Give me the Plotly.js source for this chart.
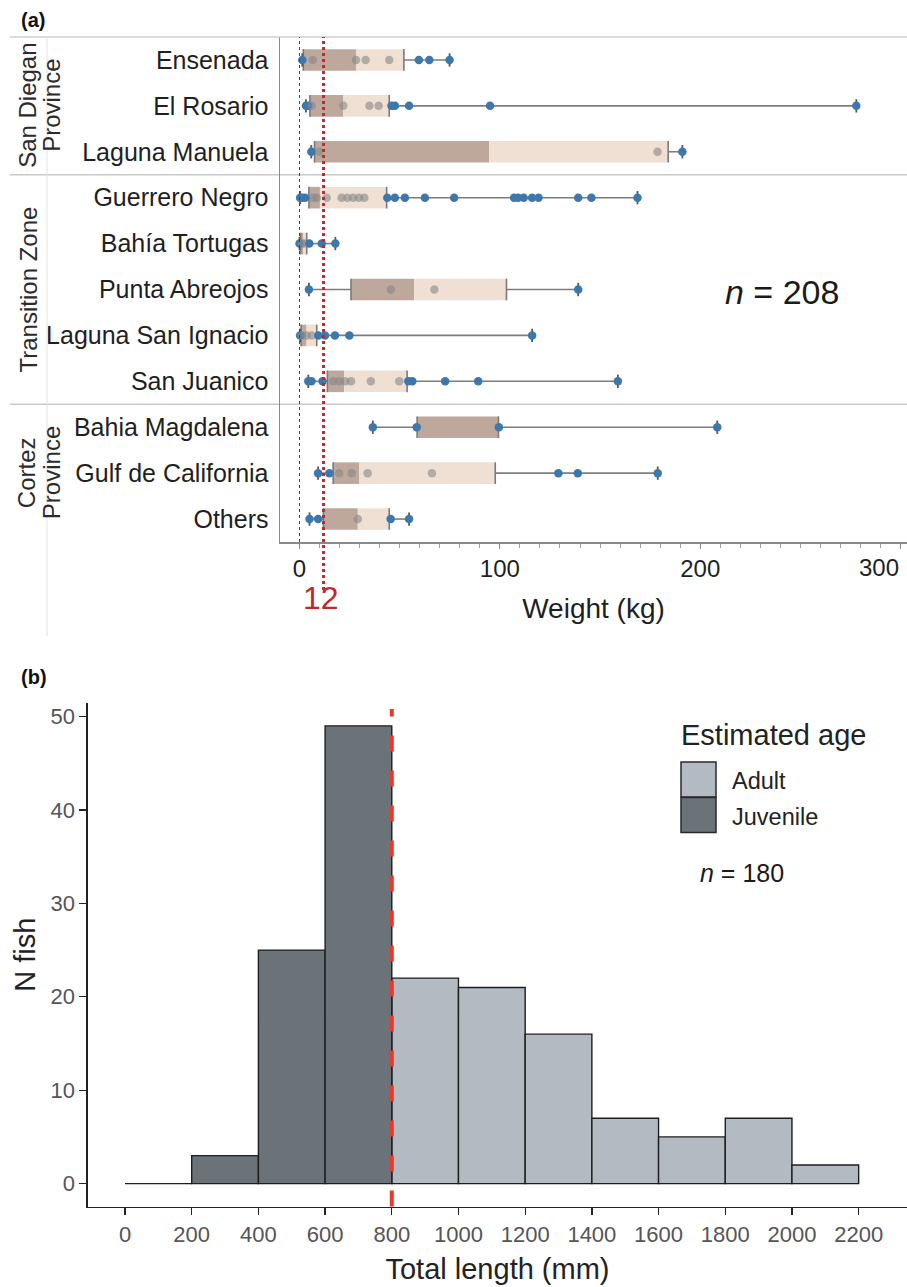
<!DOCTYPE html>
<html>
<head>
<meta charset="utf-8">
<script src="https://cdn.plot.ly/plotly-3.0.1.min.js"></script>
<style>
html,body{margin:0;padding:0;background:#ffffff;}
#chart{width:907px;height:1287px;}
</style>
</head>
<body>
<div id="chart"></div>
<script>
// ---------------- Panel (a): weight (kg) by landing site ----------------
const sites = ['Ensenada','El Rosario','Laguna Manuela','Guerrero Negro','Bahía Tortugas',
  'Punta Abreojos','Laguna San Ignacio','San Juanico','Bahia Magdalena','Gulf de California','Others'];
const provinceLines = [['San Diegan','Province'],['Transition Zone'],['Cortez','Province']];
const provinceSiteCounts = [3, 5, 3];

const wMin = [1.4, 3.2, 5.9, 0.3, 0.0, 4.7, 0.3, 4.4, 36.6, 9.3, 5.0];
const wQ1  = [1.9, 5.2, 7.5, 4.7, 0.5, 25.7, 0.8, 13.9, 58.7, 16.8, 11.9];
const wMed = [28.2, 21.9, 94.7, 10.2, 2.0, 57.3, 3.5, 22.3, 99.3, 29.7, 29.1];
const wQ3  = [52.1, 44.8, 184.0, 43.5, 3.6, 103.3, 8.6, 53.7, 99.3, 97.7, 44.8];
const wMax = [74.9, 277.9, 191.1, 168.7, 17.9, 139.1, 116.1, 158.9, 208.5, 178.8, 54.7];
const wPoints = [
  [1.4, 6.6, 28.2, 33.0, 44.8, 59.6, 64.8, 74.9],
  [3.2, 4.4, 6.1, 21.9, 34.9, 39.5, 45.9, 47.6, 54.7, 95.1, 277.9],
  [5.9, 9.8, 178.7, 191.1],
  [0.3, 1.4, 2.8, 6.9, 8.6, 13.6, 21.0, 23.9, 26.8, 29.7, 32.4, 43.8, 47.6, 52.6, 62.6, 77.2,
   107.1, 109.1, 111.9, 116.1, 119.3, 139.1, 145.7, 168.7],
  [0.0, 1.2, 2.5, 4.9, 11.1, 17.9],
  [4.7, 45.6, 67.3, 139.1],
  [0.3, 1.1, 3.6, 6.1, 9.4, 12.7, 17.7, 24.9, 116.1],
  [4.4, 6.0, 11.5, 16.8, 19.8, 22.8, 25.7, 35.6, 49.8, 54.3, 56.3, 72.7, 89.2, 158.9],
  [36.6, 58.5, 99.5, 208.5],
  [9.3, 14.9, 19.8, 26.1, 34.0, 66.1, 129.2, 138.9, 178.8],
  [5.0, 9.3, 29.1, 45.5, 54.7]
];
const weightTicks = [0, 100, 200, 300];
const maturityWeight = 12;
const nWeight = 208;

// ---------------- Panel (b): total length histogram ----------------
const lenBinStart = [0, 200, 400, 600, 800, 1000, 1200, 1400, 1600, 1800, 2000];
const lenBinWidth = 200;
const fishCounts  = [0, 3, 25, 49, 22, 21, 16, 7, 5, 7, 2];
const ageClass    = ['Juvenile','Juvenile','Juvenile','Juvenile','Adult','Adult','Adult','Adult','Adult','Adult','Adult'];
const ageLegend   = ['Adult', 'Juvenile'];
const maturityLength = 800;
const nLength = 180;

// ---------------- styling / positioning helpers ----------------
const W = 907, H = 1287;
const px = v => v / W;
const py = v => 1 - v / H;
const FONT = 'Liberation Sans, Arial, Helvetica, sans-serif';
const ageColor = {Juvenile: '#6b7278', Adult: '#b4bac2'};

const traces = [];

// box parts: Q1 -> median (dark) and median -> Q3 (light)
traces.push({
  type: 'bar', orientation: 'h', xaxis: 'x', yaxis: 'y',
  y: sites, base: wQ1, x: wMed.map((m, i) => m - wQ1[i]),
  width: 0.47, marker: {color: '#bea89c', line: {width: 0}},
  hoverinfo: 'skip', showlegend: false, name: 'Q1–median'
});
traces.push({
  type: 'bar', orientation: 'h', xaxis: 'x', yaxis: 'y',
  y: sites, base: wMed, x: wQ3.map((q, i) => q - wMed[i]),
  width: 0.47, marker: {color: '#efe0d3', line: {width: 0}},
  hoverinfo: 'skip', showlegend: false, name: 'median–Q3'
});

// whiskers min->Q1 and Q3->max
const whX = [], whY = [];
sites.forEach((s, i) => {
  whX.push(wMin[i], wQ1[i], null, wQ3[i], wMax[i], null);
  whY.push(s, s, null, s, s, null);
});
traces.push({
  type: 'scatter', mode: 'lines', xaxis: 'x', yaxis: 'y', x: whX, y: whY,
  line: {color: '#7d7d7d', width: 1.6}, hoverinfo: 'skip', showlegend: false
});

// box edges (Q1, Q3)
traces.push({
  type: 'scatter', mode: 'markers', xaxis: 'x', yaxis: 'y',
  x: wQ1.concat(wQ3), y: sites.concat(sites),
  marker: {symbol: 'line-ns-open', size: 15.5, color: '#7a7a7a', line: {width: 1.6, color: '#7a7a7a'}},
  hoverinfo: 'skip', showlegend: false
});
// whisker caps (min, max)
traces.push({
  type: 'scatter', mode: 'markers', xaxis: 'x', yaxis: 'y',
  x: wMin.concat(wMax), y: sites.concat(sites),
  marker: {symbol: 'line-ns-open', size: 9.5, color: '#555555', line: {width: 1.8, color: '#555555'}},
  hoverinfo: 'skip', showlegend: false
});

// individual fish weights
const ptX = [], ptY = [], ptC = [];
wPoints.forEach((arr, i) => {
  arr.forEach(v => {
    ptX.push(v); ptY.push(sites[i]);
    ptC.push((v > wQ1[i] && v < wQ3[i]) ? 'rgba(135,135,135,0.6)' : '#3d78ad');
  });
});
traces.push({
  type: 'scatter', mode: 'markers', xaxis: 'x', yaxis: 'y', x: ptX, y: ptY,
  marker: {size: 8.5, color: ptC, line: {width: 0}},
  hoverinfo: 'x+y', showlegend: false, name: 'Weight'
});

// histogram bars
ageLegend.forEach(cls => {
  const idx = lenBinStart.map((b, i) => i).filter(i => ageClass[i] === cls);
  traces.push({
    type: 'bar', xaxis: 'x2', yaxis: 'y2', name: cls,
    x: idx.map(i => lenBinStart[i] + lenBinWidth / 2),
    y: idx.map(i => fishCounts[i]),
    width: lenBinWidth,
    marker: {color: ageColor[cls], line: {color: '#1e1e1e', width: 1.4}},
    showlegend: false
  });
});

// ---------------- shapes ----------------
const shapes = [];
// province separators
let cum = 0;
provinceSiteCounts.slice(0, -1).forEach(c => {
  cum += c;
  shapes.push({type: 'line', xref: 'paper', yref: 'y', x0: px(10), x1: 1, y0: cum - 0.5, y1: cum - 0.5,
    line: {color: '#c9c9c9', width: 1.5}, layer: 'below'});
});
shapes.push({type: 'line', xref: 'paper', yref: 'paper', x0: px(10), x1: 1, y0: py(37), y1: py(37),
  line: {color: '#cfcfcf', width: 1.5}});
shapes.push({type: 'line', xref: 'paper', yref: 'paper', x0: px(47), x1: px(47), y0: py(37), y1: py(636),
  line: {color: '#e2e2e2', width: 1}});
// dotted zero line
shapes.push({type: 'line', xref: 'x', yref: 'y domain', x0: 0, x1: 0, y0: 0, y1: 1,
  line: {color: '#444444', width: 1, dash: 'dot'}});
// maturity weight line
shapes.push({type: 'line', xref: 'x', yref: 'paper', x0: maturityWeight, x1: maturityWeight, y0: py(590), y1: py(37),
  line: {color: '#c0282a', width: 3, dash: 'dot'}});
// maturity length line
shapes.push({type: 'line', xref: 'x2', yref: 'paper', x0: maturityLength, x1: maturityLength, y0: py(1206.5), y1: py(709),
  line: {color: '#e8392b', width: 4, dash: '16px,19px'}});
// legend keys
ageLegend.forEach((cls, k) => {
  const top = 762 + k * 35.5;
  shapes.push({type: 'rect', xref: 'paper', yref: 'paper', x0: px(681), x1: px(716), y0: py(top + 35), y1: py(top),
    fillcolor: ageColor[cls], line: {color: '#2a2a2a', width: 1.5}});
});

// ---------------- annotations ----------------
const annotations = [];
annotations.push({xref: 'paper', yref: 'paper', x: px(19), y: py(20), xanchor: 'left', yanchor: 'middle',
  text: '<b>(a)</b>', showarrow: false, font: {size: 20, color: '#111'}});
annotations.push({xref: 'paper', yref: 'paper', x: px(19), y: py(677), xanchor: 'left', yanchor: 'middle',
  text: '<b>(b)</b>', showarrow: false, font: {size: 20, color: '#111'}});
// province strip labels
let start = 0;
const stripX = [[28, 52], [28], [26, 51]];
provinceLines.forEach((lines, p) => {
  const center = start + (provinceSiteCounts[p] - 1) / 2;
  lines.forEach((t, j) => {
    annotations.push({xref: 'paper', yref: 'y', x: px(stripX[p][j]), y: center, textangle: -90,
      xanchor: 'center', yanchor: 'middle', text: t, showarrow: false, font: {size: 24, color: '#2b2b2b'}});
  });
  start += provinceSiteCounts[p];
});
annotations.push({xref: 'paper', yref: 'paper', x: px(782), y: py(292), xanchor: 'center', yanchor: 'middle',
  text: '<i>n</i> = ' + nWeight, showarrow: false, font: {size: 34, color: '#1a1a1a'}});
annotations.push({xref: 'x', yref: 'paper', x: maturityWeight, xshift: -3, y: py(598), xanchor: 'center', yanchor: 'middle',
  text: String(maturityWeight), showarrow: false, font: {size: 32, color: '#c0282a'}});
annotations.push({xref: 'x', yref: 'paper', x: weightTicks[weightTicks.length - 1], y: py(567), xanchor: 'right', yanchor: 'middle',
  text: String(weightTicks[weightTicks.length - 1]), showarrow: false, font: {size: 24, color: '#1f1f1f'}});
// legend text
annotations.push({xref: 'paper', yref: 'paper', x: px(679), y: py(735), xanchor: 'left', yanchor: 'middle',
  text: 'Estimated age', showarrow: false, font: {size: 29, color: '#222'}});
ageLegend.forEach((cls, k) => {
  annotations.push({xref: 'paper', yref: 'paper', x: px(730), y: py(780.5 + k * 36.5), xanchor: 'left', yanchor: 'middle',
    text: cls, showarrow: false, font: {size: 23.5, color: '#222'}});
});
annotations.push({xref: 'paper', yref: 'paper', x: px(742), y: py(873), xanchor: 'center', yanchor: 'middle',
  text: '<i>n</i> = ' + nLength, showarrow: false, font: {size: 25, color: '#1a1a1a'}});

// ---------------- layout ----------------
const layout = {
  width: W, height: H,
  margin: {l: 0, r: 0, t: 0, b: 0, pad: 0},
  paper_bgcolor: '#ffffff', plot_bgcolor: 'rgba(0,0,0,0)',
  font: {family: FONT, color: '#222'},
  barmode: 'overlay',
  showlegend: false,
  xaxis: {
    domain: [px(280), 1], range: [-9.73, 303.2], anchor: 'y',
    tickmode: 'array', tickvals: weightTicks, ticktext: weightTicks.map((t, i) => i === weightTicks.length - 1 ? '' : String(t)),
    ticks: 'outside', ticklen: 5, tickwidth: 1, tickcolor: '#8a8a8a',
    minor: {tickmode: 'linear', tick0: 0, dtick: 10, ticks: 'outside', ticklen: 4, tickcolor: '#a0a0a0', showgrid: false},
    showline: true, linecolor: '#8a8a8a', linewidth: 1.5, showgrid: false, zeroline: false,
    tickfont: {size: 24, color: '#1f1f1f'},
    title: {text: 'Weight (kg)', font: {size: 28, color: '#1f1f1f'}, standoff: 17}
  },
  yaxis: {
    domain: [py(542), py(37)], range: [sites.length - 0.5, -0.5], anchor: 'x',
    type: 'category', categoryorder: 'array', categoryarray: sites,
    showline: true, linecolor: '#8a8a8a', linewidth: 1.5, ticks: '', showgrid: false, zeroline: false,
    ticklabelstandoff: 5,
    tickfont: {size: 25, color: '#1f1f1f'}
  },
  xaxis2: {
    domain: [px(88), 1], range: [-111, 2345], anchor: 'y2',
    tick0: 0, dtick: 200, ticks: 'outside', ticklen: 7, tickwidth: 1.3, tickcolor: '#222',
    showline: true, linecolor: '#222', linewidth: 1.6, showgrid: false, zeroline: false,
    tickfont: {size: 22, color: '#555'},
    title: {text: 'Total length (mm)', font: {size: 29, color: '#222'}, standoff: 13}
  },
  yaxis2: {
    domain: [py(1206.5), py(703)], range: [-2.45, 51.45], anchor: 'x2',
    tick0: 0, dtick: 10, ticks: 'outside', ticklen: 7, tickwidth: 1.3, tickcolor: '#222',
    showline: true, linecolor: '#222', linewidth: 1.6, showgrid: false, zeroline: false,
    tickfont: {size: 22, color: '#555'},
    title: {text: 'N fish', font: {size: 29, color: '#222'}, standoff: 6}
  },
  shapes: shapes,
  annotations: annotations
};

Plotly.newPlot('chart', traces, layout, {displayModeBar: false, staticPlot: true});
</script>
</body>
</html>
